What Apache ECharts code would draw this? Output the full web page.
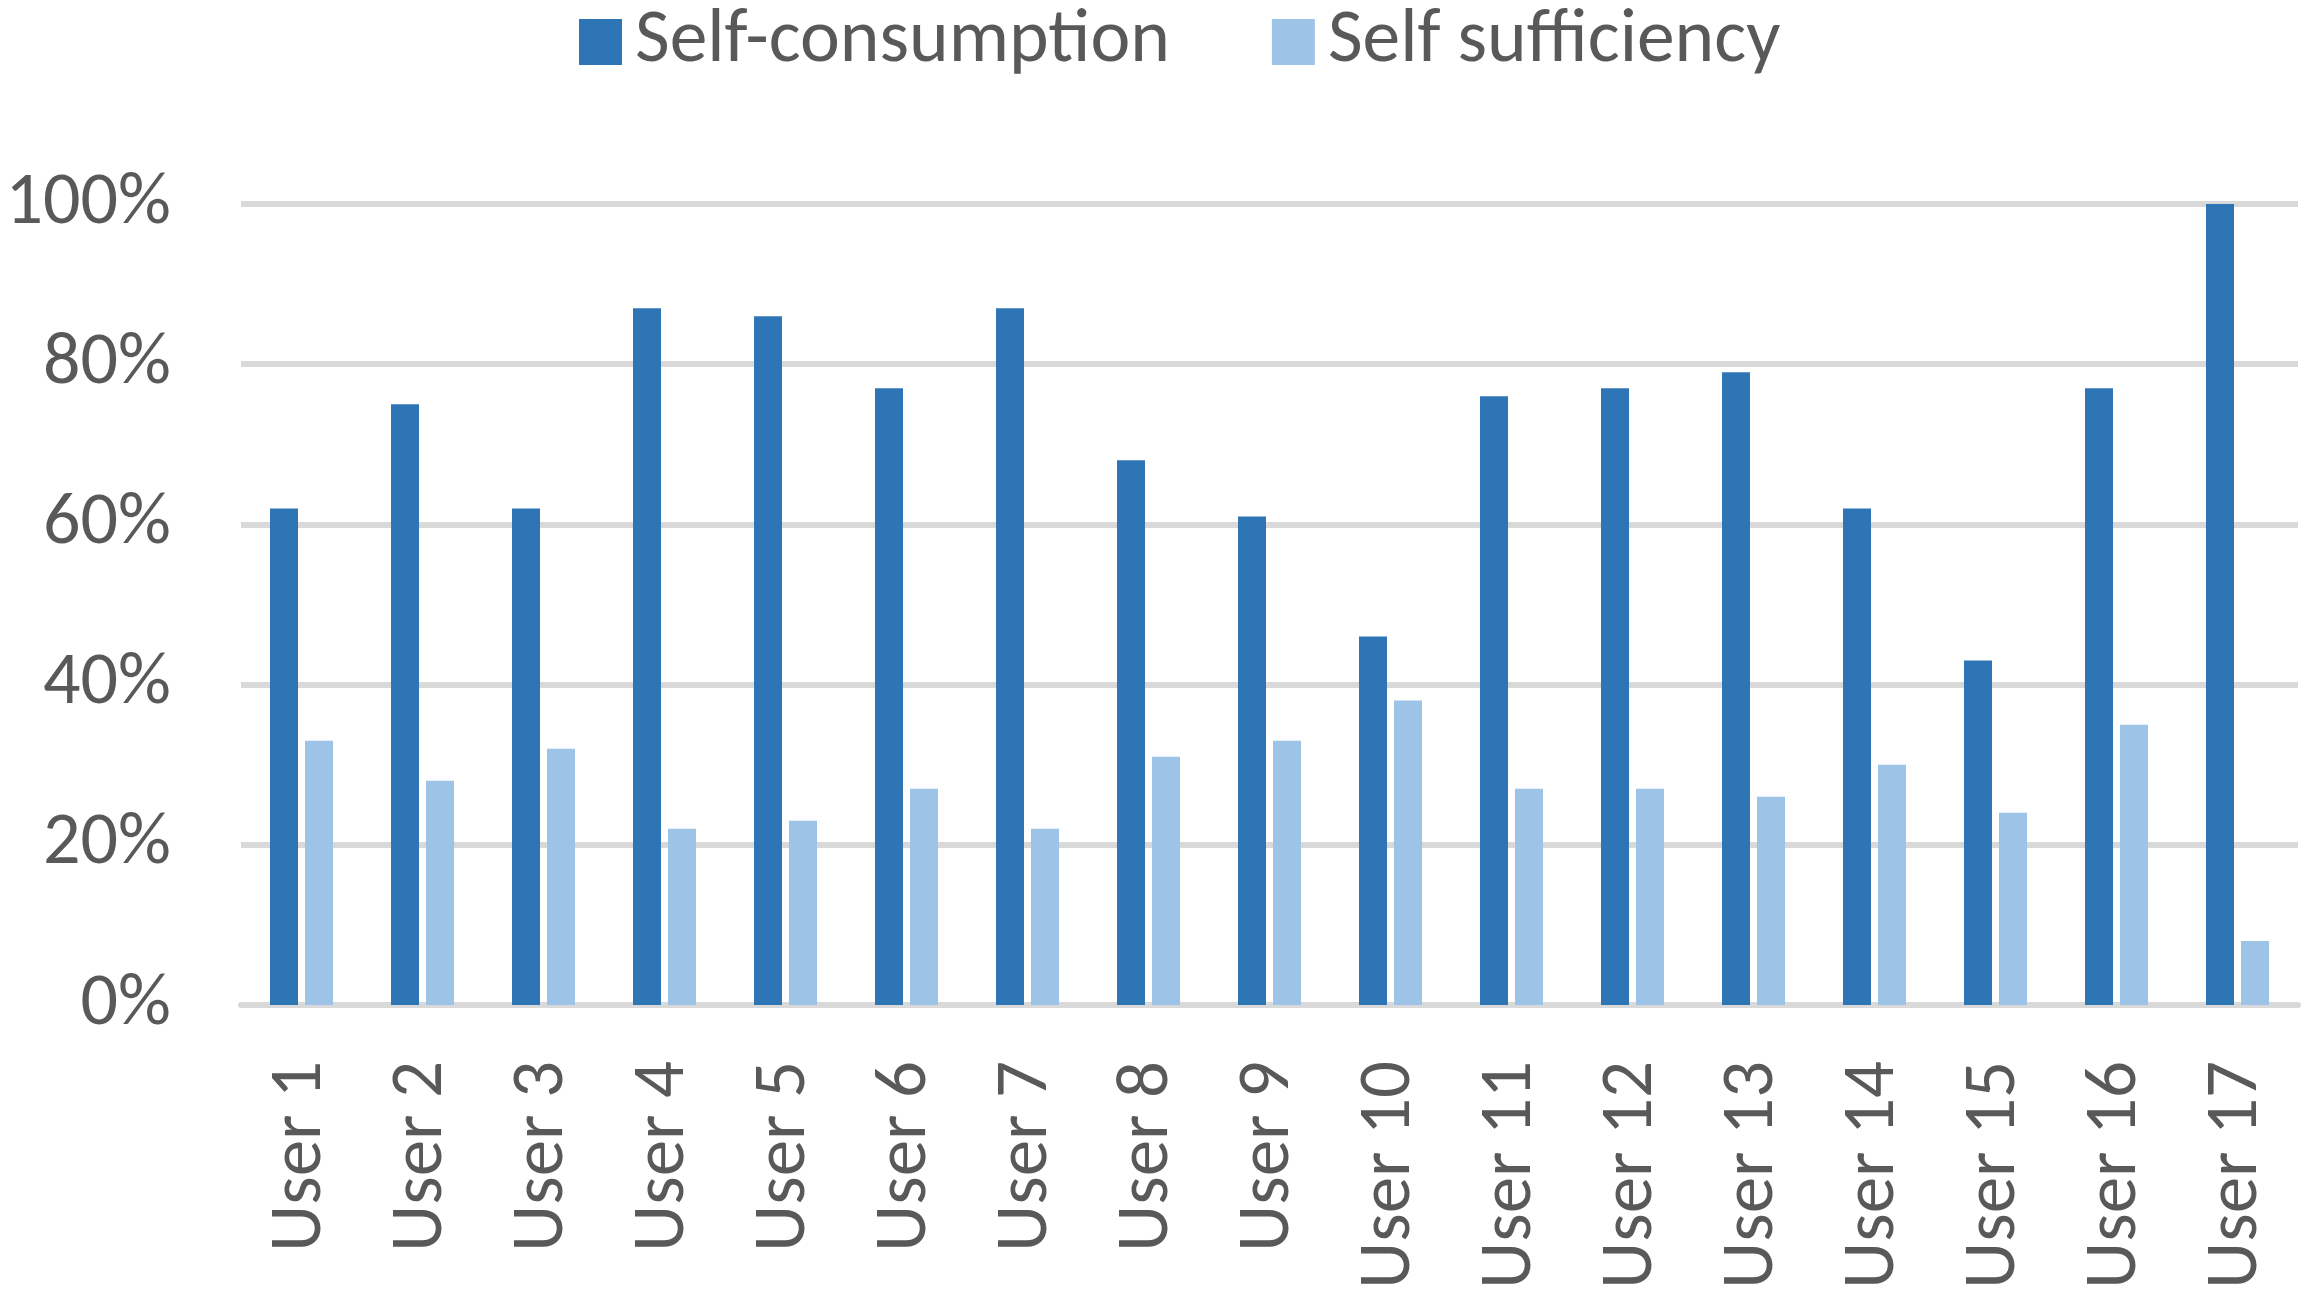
<!DOCTYPE html>
<html><head><meta charset="utf-8">
<script src="https://cdn.jsdelivr.net/npm/echarts@6/dist/echarts.min.js"></script>
<style>html,body{margin:0;padding:0;background:#fff}#c{width:2310px;height:1292px}</style>
</head><body><div id="c"></div>
<script>
const categories = ['User 1','User 2','User 3','User 4','User 5','User 6','User 7','User 8','User 9','User 10','User 11','User 12','User 13','User 14','User 15','User 16','User 17'];
const selfConsumption = [62,75,62,87,86,77,87,68,61,46,76,77,79,62,43,77,100];
const selfSufficiency = [33,28,32,22,23,27,22,31,33,38,27,27,26,30,24,35,8];
const seriesNames = ['Self-consumption','Self sufficiency'];
const FONT = 'Carlito, Lato, sans-serif';
const TXT = '#595959';
const chart = echarts.init(document.getElementById('c'));
chart.setOption({
  animation:false,
  color:['#2e75b6','#9dc3e6'],
  legend:{
    left:579, top:0, padding:0, itemWidth:43, itemHeight:46, itemGap:102,
    icon:'rect',
    textStyle:{fontFamily:FONT,fontSize:75.5,lineHeight:84,color:TXT,padding:[0,0,0,8]},
    data:seriesNames
  },
  grid:{left:241,right:12,top:204,bottom:287,containLabel:false},
  xAxis:{
    type:'category', data:categories,
    axisLine:{show:true,lineStyle:{color:'#d9d9d9',width:6}},
    axisTick:{show:false},
    axisLabel:{rotate:90,margin:56,fontFamily:FONT,fontSize:73,color:TXT,interval:0}
  },
  yAxis:{
    type:'value', min:0, max:100, interval:20,
    axisLine:{show:false}, axisTick:{show:false},
    splitLine:{lineStyle:{color:'#d9d9d9',width:6}},
    axisLabel:{margin:70,fontFamily:FONT,fontSize:74,color:TXT,formatter:'{value}%'}
  },
  series:[
    {name:seriesNames[0],type:'bar',data:selfConsumption,barWidth:28,barGap:'25%'},
    {name:seriesNames[1],type:'bar',data:selfSufficiency,barWidth:28,barGap:'25%'}
  ]
});
</script></body></html>
